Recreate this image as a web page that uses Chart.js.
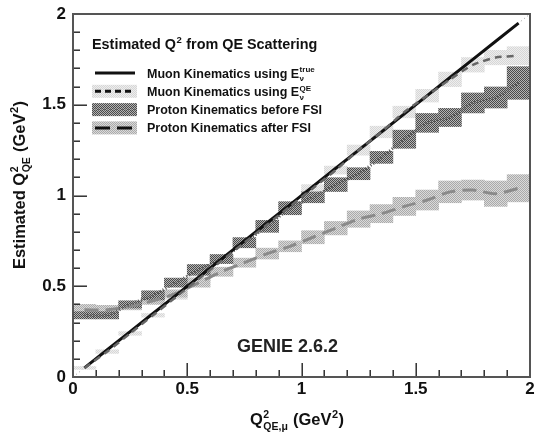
<!DOCTYPE html>
<html>
<head>
<meta charset="utf-8">
<script src="https://cdn.jsdelivr.net/npm/chart.js@4.4.0/dist/chart.umd.min.js"></script>
<style>
  html, body { margin: 0; padding: 0; background: #fff; }
  #wrap { width: 535px; height: 434px; position: relative; }
  #wrap canvas { position: absolute; left: 0; top: 0; }
  #frame { pointer-events: none; }
</style>
</head>
<body>
<div id="wrap">
  <canvas id="c" width="535" height="434"></canvas>
  <canvas id="frame" width="535" height="434"></canvas>
</div>
<script>
// bin centres (Q2 QE,mu in GeV^2)
const xCenters = [0.05, 0.15, 0.25, 0.35, 0.45, 0.55, 0.65, 0.75, 0.85, 0.95,
                  1.05, 1.15, 1.25, 1.35, 1.45, 1.55, 1.65, 1.75, 1.85, 1.95];

// muon kinematics, E true
const muonTrue = [0.05, 0.15, 0.25, 0.35, 0.45, 0.55, 0.65, 0.75, 0.85, 0.95,
                  1.05, 1.15, 1.25, 1.35, 1.45, 1.55, 1.65, 1.75, 1.85, 1.95];

// muon kinematics, E QE
const muonQE = [0.05, 0.14, 0.24, 0.34, 0.44, 0.54, 0.64, 0.74, 0.84, 0.94,
                1.04, 1.14, 1.25, 1.35, 1.46, 1.55, 1.64, 1.72, 1.76, 1.77];
const muonQEErr = [0.008, 0.01, 0.01, 0.01, 0.012, 0.012, 0.015, 0.015, 0.018, 0.02,
                   0.02, 0.022, 0.028, 0.032, 0.032, 0.035, 0.04, 0.04, 0.04, 0.05];

// proton kinematics before FSI
const protonBefore = [0.34, 0.34, 0.40, 0.45, 0.52, 0.59, 0.65, 0.74, 0.83, 0.93,
                      0.99, 1.06, 1.12, 1.21, 1.31, 1.40, 1.43, 1.51, 1.54, 1.62];
const protonBeforeErr = [0.02, 0.02, 0.02, 0.025, 0.025, 0.03, 0.025, 0.028, 0.033, 0.036,
                         0.03, 0.038, 0.033, 0.033, 0.05, 0.052, 0.05, 0.055, 0.058, 0.09];

// proton kinematics after FSI
const protonAfter = [0.37, 0.37, 0.39, 0.42, 0.46, 0.52, 0.58, 0.63, 0.68, 0.72,
                     0.77, 0.82, 0.87, 0.90, 0.94, 0.975, 1.02, 1.03, 1.01, 1.04];
const protonAfterErr = [0.03, 0.025, 0.02, 0.02, 0.02, 0.025, 0.025, 0.025, 0.03, 0.03,
                        0.036, 0.037, 0.045, 0.05, 0.05, 0.055, 0.06, 0.055, 0.07, 0.075];

// y = x reference
const diagX = [0, 2];
const diagY = [0, 2];

const majorTicks = [0, 0.5, 1, 1.5, 2];
const minorTicks = [0, 0.1, 0.2, 0.3, 0.4, 0.5, 0.6, 0.7, 0.8, 0.9, 1.0,
                    1.1, 1.2, 1.3, 1.4, 1.5, 1.6, 1.7, 1.8, 1.9, 2.0];

const FONT = "'Liberation Sans', Arial, sans-serif";

// patterns are made on a scratch canvas so the chart canvas is left alone
const scratch = document.createElement('canvas').getContext('2d');
function checker(a, b) {
    const p = document.createElement('canvas');
    p.width = 2; p.height = 2;
    const g = p.getContext('2d');
    g.fillStyle = a; g.fillRect(0, 0, 2, 2);
    g.fillStyle = b; g.fillRect(0, 0, 1, 1); g.fillRect(1, 1, 1, 1);
    return scratch.createPattern(p, 'repeat');
}

const qePat = checker('#eeeeee', '#d6d6d6');
const beforePat = checker('#b4b4b4', '#4a4a4a');
const afterPat = checker('#dadada', '#aaaaaa');

function pts(ys) { return xCenters.map((x, i) => ({ x: x, y: ys[i] })); }
function boxes(ys, errs) { return xCenters.map((x, i) => ({ x: x, y: [ys[i] - errs[i], ys[i] + errs[i]] })); }

// text with superscripts / subscripts, drawn piece by piece
function richWidth(ctx, parts, size) {
    let w = 0;
    parts.forEach(p => {
        if (p.t !== undefined) {
            ctx.font = `bold ${size}px ${FONT}`;
            w += ctx.measureText(p.t).width;
        } else {
            ctx.font = `bold ${p.s || size * 0.62}px ${FONT}`;
            w += Math.max(p.up ? ctx.measureText(p.up).width : 0, p.dn ? ctx.measureText(p.dn).width : 0) + 1;
        }
    });
    return w;
}

function drawRich(ctx, parts, x, y, size, align) {
    let cx = x;
    if (align === 'center') cx -= richWidth(ctx, parts, size) / 2;
    ctx.textAlign = 'left';
    ctx.textBaseline = 'alphabetic';
    parts.forEach(p => {
        if (p.t !== undefined) {
            ctx.font = `bold ${size}px ${FONT}`;
            ctx.fillText(p.t, cx, y);
            cx += ctx.measureText(p.t).width;
        } else {
            const s = p.s || size * 0.62;
            ctx.font = `bold ${s}px ${FONT}`;
            let w = 0;
            if (p.up) { ctx.fillText(p.up, cx + 0.5, y - size * 0.42); w = ctx.measureText(p.up).width; }
            if (p.dn) { ctx.fillText(p.dn, cx + 0.5, y + size * 0.3); w = Math.max(w, ctx.measureText(p.dn).width); }
            cx += w + 1;
        }
    });
}

const legendRows = [
    { parts: [{ t: 'Muon Kinematics using E' }, { up: 'true', dn: 'ν', s: 8 }], box: null, color: '#111', dash: [], lw: 3 },
    { parts: [{ t: 'Muon Kinematics using E' }, { up: 'QE', dn: 'ν', s: 8 }], box: qePat, color: '#111', dash: [6, 4], lw: 3 },
    { parts: [{ t: 'Proton Kinematics before FSI' }], box: beforePat, color: '#777', dash: [1, 2], lw: 2 },
    { parts: [{ t: 'Proton Kinematics after FSI' }], box: afterPat, color: '#111', dash: [15, 7], lw: 3 }
];

// frame and inner ticks go on a transparent canvas laid over the chart
function drawFrame(chart) {
    const fc = document.getElementById('frame').getContext('2d');
    const xs = chart.scales.x, ys = chart.scales.y;
    const L = xs.left, R = xs.right, T = ys.top, B = ys.bottom;
    fc.clearRect(0, 0, 535, 434);
    fc.fillStyle = '#222';
    minorTicks.forEach((v, i) => {
        const len = (i % 5 === 0) ? 14 : 7;
        fc.fillRect(Math.round(xs.getPixelForValue(v)) - 0.5, B - len, 1.4, len);
        fc.fillRect(L, Math.round(ys.getPixelForValue(v)) - 0.5, len, 1.4);
    });
    fc.fillStyle = '#555';
    fc.fillRect(L - 1, T - 1, R - L + 2, 2);
    fc.fillRect(L - 1, B - 1, R - L + 2, 2);
    fc.fillRect(L - 1, T - 1, 2, B - T + 2);
    fc.fillRect(R - 1, T - 1, 2, B - T + 2);
}

const decor = {
    id: 'decor',
    afterDraw(chart) {
        drawFrame(chart);
        const ctx = chart.ctx;
        ctx.save();
        ctx.fillStyle = '#111';

        // legend
        drawRich(ctx, [{ t: 'Estimated Q' }, { up: '2', s: 9.5 }, { t: ' from QE Scattering' }], 92, 49, 14.4);
        legendRows.forEach((r, i) => {
            const cy = 73 + i * 18.3;
            if (r.box) {
                ctx.fillStyle = r.box;
                ctx.fillRect(92, cy - 6.5, 45, 13);
            }
            ctx.strokeStyle = r.color;
            ctx.lineWidth = r.lw;
            ctx.setLineDash(r.dash);
            ctx.beginPath();
            ctx.moveTo(95, cy); ctx.lineTo(135, cy);
            ctx.stroke();
            ctx.setLineDash([]);
            ctx.fillStyle = '#111';
            drawRich(ctx, r.parts, 147, cy + 4.5, 12.5);
        });

        // generator label
        ctx.font = `bold 18px ${FONT}`;
        ctx.fillStyle = '#222';
        ctx.textAlign = 'left';
        ctx.fillText('GENIE 2.6.2', 237, 352);

        // axis titles
        ctx.fillStyle = '#111';
        drawRich(ctx, [{ t: 'Q' }, { up: '2', dn: 'QE,μ', s: 10.5 }, { t: ' (GeV' }, { up: '2', s: 11 }, { t: ')' }], 297, 425, 16.5, 'center');
        ctx.translate(25, 185);
        ctx.rotate(-Math.PI / 2);
        drawRich(ctx, [{ t: 'Estimated Q' }, { up: '2', dn: 'QE', s: 10.5 }, { t: ' (GeV' }, { up: '2', s: 11 }, { t: ')' }], 0, 0, 16.5, 'center');
        ctx.restore();
    }
};

const boxDefaults = { type: 'bar', barPercentage: 1, categoryPercentage: 1, grouped: false, borderWidth: 0, borderSkipped: false };
const tickFont = { family: FONT, size: 17, weight: 'bold' };

new Chart(document.getElementById('c'), {
    type: 'bar',
    data: {
        datasets: [
            Object.assign({ label: 'muonQEBand', data: boxes(muonQE, muonQEErr), backgroundColor: qePat, order: 12 }, boxDefaults),
            Object.assign({ label: 'afterBand', data: boxes(protonAfter, protonAfterErr), backgroundColor: afterPat, order: 11 }, boxDefaults),
            Object.assign({ label: 'beforeBand', data: boxes(protonBefore, protonBeforeErr), backgroundColor: beforePat, order: 10 }, boxDefaults),
            { type: 'line', label: 'diag', data: diagX.map((x, i) => ({ x: x, y: diagY[i] })),
              borderColor: '#999', borderWidth: 1, borderDash: [1, 3], pointRadius: 0, order: 20 },
            { type: 'line', label: 'Proton Kinematics after FSI', data: pts(protonAfter),
              borderColor: '#8a8a8a', borderWidth: 3, borderDash: [14, 7], pointRadius: 0, tension: 0.3, order: 5 },
            { type: 'line', label: 'Proton Kinematics before FSI', data: pts(protonBefore),
              borderColor: '#555', borderWidth: 3, borderDash: [1, 2], pointRadius: 0, tension: 0.2, order: 4 },
            { type: 'line', label: 'Muon Kinematics using E true', data: pts(muonTrue),
              borderColor: '#111', borderWidth: 3, pointRadius: 0, order: 3 },
            { type: 'line', label: 'Muon Kinematics using E QE', data: pts(muonQE),
              borderColor: '#666', borderWidth: 2.5, borderDash: [7, 5], pointRadius: 0, tension: 0.2, order: 2 }
        ]
    },
    options: {
        responsive: false,
        animation: false,
        devicePixelRatio: 1,
        layout: { padding: { top: 14, right: 5, left: 0, bottom: 0 } },
        plugins: { legend: { display: false }, tooltip: { enabled: false } },
        scales: {
            x: {
                type: 'linear', min: 0, max: 2, offset: false,
                grid: { display: false, drawTicks: false, tickLength: 0 },
                border: { display: false },
                afterBuildTicks: s => { s.ticks = majorTicks.map(v => ({ value: v })); },
                afterFit: s => { s.height = 57; s.paddingLeft = 0; s.paddingRight = 0; },
                ticks: { padding: 2, maxRotation: 0, autoSkip: false, color: '#111',
                         callback: v => String(v), font: tickFont }
            },
            y: {
                type: 'linear', min: 0, max: 2,
                grid: { display: false, drawTicks: false, tickLength: 0 },
                border: { display: false },
                afterBuildTicks: s => { s.ticks = majorTicks.map(v => ({ value: v })); },
                afterFit: s => { s.width = 73; s.paddingTop = 0; s.paddingBottom = 0; },
                ticks: { padding: 7, autoSkip: false, color: '#111',
                         callback: v => String(v), font: tickFont }
            }
        }
    },
    plugins: [decor]
});
</script>
</body>
</html>
